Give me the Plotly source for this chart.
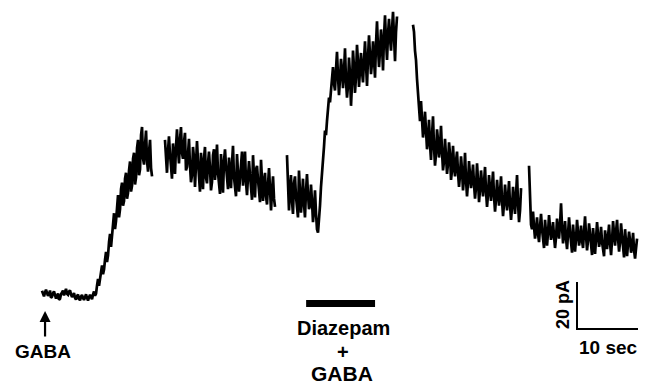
import plotly.graph_objects as go

# ---- data (time in s, current in pA) ----
DT = 0.164  # sample interval (s)
SEG_STARTS = [0.0, 20.16, 40.16, 60.82, 79.84]

SEG1 = [1.8, 0.2, -0.6, 1.0, 2.3, 0.9, -0.3, 0.4, 1.9, -1.2, -0.8, 0.7, 1.5, 0.0, -1.5,
        -0.4, 0.6, -2.0, -1.6, 0.3, 1.2, 1.9, -0.2, 1.1, 2.6, 0.5, 0.1, 1.4, 2.0, 0.3,
        -0.9, -0.1, 0.8, -1.2, -2.0, -0.5, 0.2, -1.6, -2.3, -0.7, 0.0, -1.3, -2.1, -0.9,
        0.3, -1.2, -2.4, -1.0, 0.1, -0.8, -1.8, 0.2, 1.5, -0.3, 0.6, 4.0, 6.8, 3.9, 6.9,
        9.5, 12.6, 8.8, 10.8, 15.0, 18.3, 14.0, 16.9, 22.5, 26.0, 20.5, 24.0, 30.0, 34.8,
        28.0, 31.5, 40.0, 42.5, 33.0, 36.5, 45.0, 47.8, 38.0, 40.0, 49.5, 52.0, 41.0, 43.5,
        53.0, 56.8, 44.0, 46.5, 58.0, 60.5, 47.0, 50.0, 62.5, 66.0, 51.0, 53.5, 68.0, 71.5,
        58.0, 55.5, 64.0, 70.0, 57.0, 52.5, 61.0, 66.0, 54.0, 50.5]
SEG2 = [66.0, 57.0, 52.0, 61.0, 67.5, 60.0, 55.0, 49.5, 64.5, 58.0, 51.5, 63.0, 70.5, 62.0,
        56.0, 66.0, 71.5, 60.5, 58.0, 65.0, 69.0, 53.0, 54.5, 60.0, 66.5, 55.0, 48.0, 51.0,
        63.0, 58.5, 46.0, 55.5, 65.5, 57.0, 50.0, 44.0, 60.5, 53.5, 45.0, 58.0, 63.0, 50.0,
        47.5, 56.0, 61.0, 54.0, 44.5, 48.0, 59.5, 62.0, 49.0, 55.0, 64.0, 52.0, 46.0, 43.0,
        60.0, 51.0, 43.5, 57.0, 62.0, 55.0, 48.5, 45.0, 58.5, 52.5, 45.5, 56.0, 63.5, 50.0,
        47.0, 42.0, 60.0, 53.0, 44.0, 49.5, 58.0, 61.0, 46.5, 52.0, 61.0, 48.0, 42.5, 50.5,
        57.0, 51.0, 45.0, 40.5, 59.5, 47.0, 41.5, 53.5, 55.0, 49.0, 43.0, 39.5, 57.5, 46.0,
        40.0, 48.5, 52.0, 42.0, 38.5, 47.0, 54.0, 45.0, 36.0, 44.0, 50.5, 41.0, 37.5]
SEG3 = [59.5, 44.0, 36.0, 45.0, 51.0, 40.0, 34.5, 47.5, 50.5, 42.0, 37.0, 33.0, 53.0, 46.0,
        35.0, 41.0, 49.5, 39.0, 33.0, 44.0, 51.5, 43.0, 36.5, 38.0, 47.0, 40.0, 31.0, 36.0,
        44.5, 35.0, 28.0, 26.5, 31.0, 38.0, 46.0, 51.0, 58.0, 63.0, 70.0, 68.0, 74.0, 80.0,
        84.0, 82.0, 86.5, 92.0, 97.0, 90.0, 87.0, 96.0, 103.5, 93.0, 85.0, 92.0, 100.5, 96.0,
        88.0, 95.0, 105.0, 91.0, 84.0, 89.0, 101.0, 94.0, 80.5, 90.0, 104.0, 97.0, 86.0,
        93.0, 106.5, 99.0, 88.5, 96.0, 103.0, 95.0, 90.5, 100.0, 108.0, 98.0, 89.0, 101.0,
        110.5, 102.0, 94.0, 99.0, 108.0, 100.0, 92.5, 107.0, 116.5, 105.0, 97.0, 104.0,
        113.0, 106.0, 95.5, 110.0, 119.0, 108.0, 100.0, 111.0, 117.5, 109.0, 104.0, 113.0,
        120.5, 110.0, 99.5, 112.0, 118.5]
SEG4 = [115.0, 112.0, 104.0, 100.0, 92.0, 86.0, 80.0, 74.0, 82.5, 75.0, 67.0, 71.0, 78.0,
        70.0, 62.0, 66.0, 74.5, 64.0, 57.5, 68.0, 76.0, 63.0, 55.0, 60.0, 70.5, 66.0, 58.5,
        63.0, 72.0, 61.0, 53.0, 57.0, 66.5, 59.0, 51.5, 56.0, 65.0, 60.0, 49.0, 53.0, 63.5,
        55.0, 50.5, 57.0, 61.0, 52.0, 46.0, 51.0, 59.0, 53.0, 44.5, 50.0, 60.5, 49.0, 42.0,
        48.0, 57.0, 51.0, 45.5, 50.0, 55.5, 47.0, 41.0, 46.0, 56.0, 48.5, 39.5, 45.0, 53.0,
        47.0, 42.0, 48.0, 54.5, 44.0, 37.5, 43.0, 51.0, 45.0, 40.0, 46.5, 52.5, 42.0, 35.5,
        41.0, 49.0, 43.0, 38.0, 44.0, 50.5, 40.0, 33.5, 39.0, 47.0, 41.0, 36.0, 42.0, 48.5,
        38.0, 32.0, 37.5, 46.0, 40.0, 34.5, 43.0, 51.0, 39.0, 31.0, 36.0, 45.5]
SEG5 = [55.0, 42.0, 30.0, 28.0, 35.5, 29.0, 24.0, 27.5, 33.0, 26.0, 22.5, 29.0, 34.5, 28.0,
        25.0, 20.0, 32.0, 27.0, 21.0, 26.5, 34.0, 28.5, 23.5, 26.0, 31.0, 25.0, 20.0, 24.5,
        32.5, 28.0, 24.0, 30.0, 39.0, 29.0, 22.0, 26.0, 31.5, 24.0, 19.5, 26.0, 33.0, 27.0,
        22.5, 18.0, 30.0, 25.0, 18.5, 24.0, 32.0, 26.5, 21.0, 24.0, 29.5, 23.0, 20.0, 27.0,
        33.5, 25.0, 19.0, 23.5, 30.5, 26.0, 22.0, 17.0, 28.5, 22.0, 17.5, 24.0, 31.0, 25.5,
        20.5, 23.0, 29.0, 22.5, 18.0, 16.5, 27.5, 23.0, 19.5, 25.0, 30.0, 22.0, 17.0, 23.5,
        31.5, 26.0, 21.0, 27.0, 32.0, 24.0, 18.5, 22.5, 30.5, 25.0, 20.0, 16.0, 28.0, 21.5,
        16.5, 22.0, 27.0, 23.0, 18.0, 21.0, 26.5, 19.0, 15.5, 20.0, 24.0]
SEGMENTS = [SEG1, SEG2, SEG3, SEG4, SEG5]

GABA_ON = 0.5                 # s
DIAZEPAM_ON, DIAZEPAM_OFF = 43.3, 54.6   # s
SCALE_T, SCALE_I = 10, 20     # 10 sec, 20 pA

# ---- axis geometry (pixels <-> data) ----
W, H = 645, 385
PX_PER_S, X0_PX = 6.1, 42.0
PX_PER_PA, Y0_PX = 2.35, 295.0
def tx(px):
    return (px - X0_PX) / PX_PER_S
def iy(py):
    return (Y0_PX - py) / PX_PER_PA

xs, ys = [], []
for start, seg in zip(SEG_STARTS, SEGMENTS):
    xs += [start + k * DT for k in range(len(seg))] + [None]
    ys += list(seg) + [None]

fig = go.Figure()
fig.add_trace(go.Scatter(x=xs, y=ys, mode="lines",
                         line=dict(color="black", width=2.7), connectgaps=False,
                         hoverinfo="skip", showlegend=False))

# scale bar
sx0 = tx(577)
sy0 = iy(329)
fig.add_trace(go.Scatter(x=[sx0, sx0, sx0 + SCALE_T], y=[sy0 + SCALE_I, sy0, sy0],
                         mode="lines", line=dict(color="black", width=2),
                         hoverinfo="skip", showlegend=False))

# diazepam bar
fig.add_shape(type="rect", x0=DIAZEPAM_ON, x1=DIAZEPAM_OFF, y0=iy(307), y1=iy(300),
              fillcolor="black", line=dict(width=0))

font = dict(family="Liberation Sans, Arial, sans-serif", size=19, color="black")
ann = []
ann.append(dict(x=GABA_ON, y=iy(311), ax=GABA_ON, ay=iy(338), xref="x", yref="y",
                axref="x", ayref="y", showarrow=True, arrowhead=2, arrowsize=1.0,
                arrowwidth=2.2, arrowcolor="black", text="", standoff=0))
ann.append(dict(x=tx(43), y=iy(351), text="<b>GABA</b>", font=font))
ann.append(dict(x=tx(343), y=iy(328), text="<b>Diazepam</b>", font=dict(font, size=20)))
ann.append(dict(x=tx(343), y=iy(352), text="<b>+</b>", font=dict(font, size=20)))
ann.append(dict(x=tx(342), y=iy(373), text="<b>GABA</b>", font=dict(font, size=21)))
ann.append(dict(x=tx(608), y=iy(347), text="<b>10 sec</b>", font=font))
ann.append(dict(x=tx(563), y=iy(305), text="<b>20 pA</b>", font=dict(font, size=18),
                textangle=-90))
for a in ann:
    a.setdefault("showarrow", False)
    a.setdefault("xref", "x")
    a.setdefault("yref", "y")
    fig.add_annotation(**a)

fig.update_layout(width=W, height=H, margin=dict(l=0, r=0, t=0, b=0),
                  paper_bgcolor="white", plot_bgcolor="white", showlegend=False)
fig.update_xaxes(range=[tx(0), tx(W)], visible=False, showgrid=False, zeroline=False)
fig.update_yaxes(range=[iy(H), iy(0)], visible=False, showgrid=False, zeroline=False)

fig.write_html("out.html")
